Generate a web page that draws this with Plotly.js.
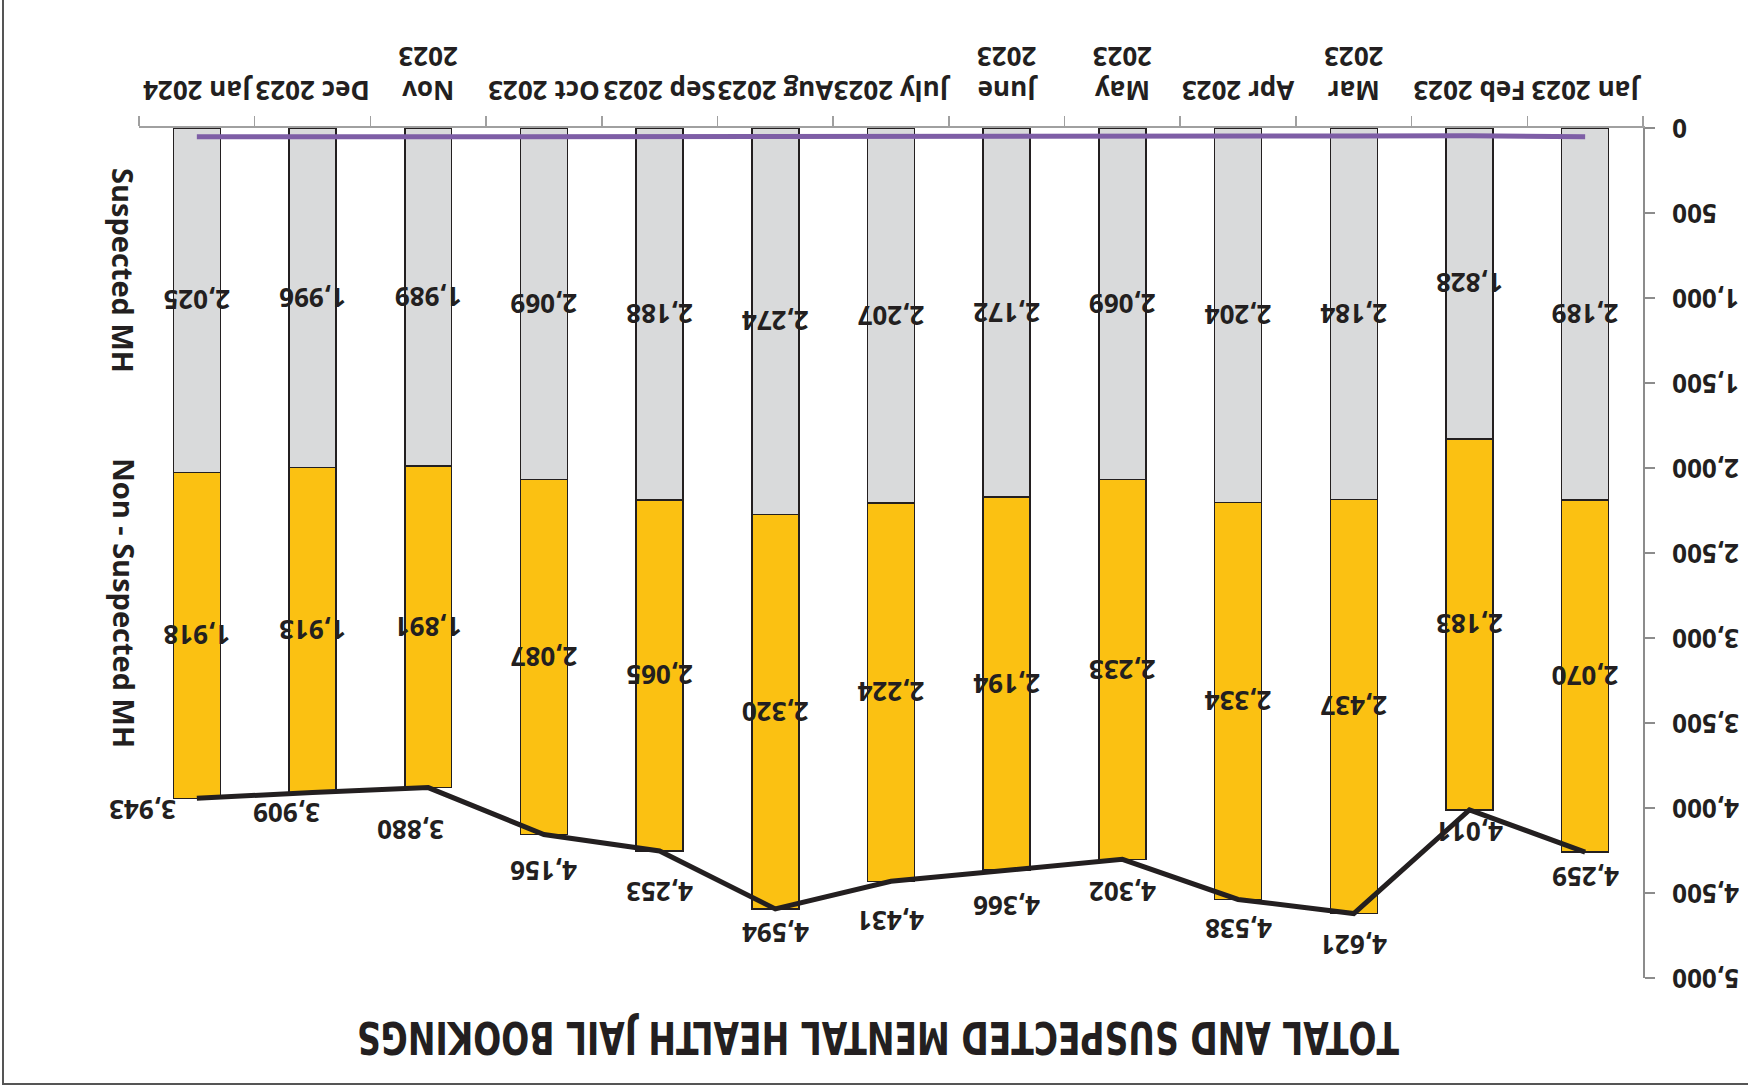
<!DOCTYPE html>
<html><head><meta charset="utf-8">
<script src="https://cdn.plot.ly/plotly-3.0.1.min.js"></script>
<style>
html,body{margin:0;padding:0;background:#fff;overflow:hidden;width:1748px;height:1091px;}
#wrap{position:absolute;left:0;top:0;width:1748px;height:1091px;transform:rotate(180deg);transform-origin:50% 50%;background:#fff;}
#chart{position:absolute;left:0;top:0;width:1748px;height:1091px;}
#frame{position:absolute;left:-10px;top:6px;width:1756px;height:1100px;box-sizing:border-box;border-top:2px solid #555;border-right:2px solid #555;pointer-events:none;}
</style></head><body>
<div id="wrap"><div id="chart"></div><div id="frame"></div></div>
<script>
// ---- data ----
const months = ['Jan 2023','Feb 2023','Mar<br>2023','Apr 2023','May<br>2023','June<br>2023','July 2023','Aug 2023','Sep 2023','Oct 2023','Nov<br>2023','Dec 2023','Jan 2024'];
const suspectedMH = [2189,1828,2184,2204,2069,2172,2207,2274,2188,2069,1989,1996,2025];
const nonSuspectedMH = [2070,2183,2437,2334,2233,2194,2224,2320,2065,2087,1891,1913,1918];
const totalBookings = [4259,4011,4621,4538,4302,4366,4431,4594,4253,4156,3880,3909,3943];
const pctSuspected = [51.4,45.6,47.3,48.6,48.1,49.7,49.8,49.5,51.4,49.8,51.3,51.1,51.4];
const seriesNames = ['Suspected MH','Non - Suspected MH'];
const chartTitle = 'TOTAL AND SUSPECTED MENTAL HEALTH JAIL BOOKINGS';

// ---- style ----
const FONT = '"Open Sans", "Noto Sans", sans-serif';
const INK = '#231F20';
const labelShiftX = [0,0,0,0,0,0,0,0,0,0,18,26,54];
const labelShiftY = [25,22,31,30,33,36,40,24,41,36,42,20,12];
const seriesLabelPos = [0.167, 0.559];   // paper-y of the vertical series names

const barText = {family: FONT, size: 26, color: INK, weight: 700};

const traces = [
  {type:'bar', name: seriesNames[0], x: months, y: suspectedMH,
   marker:{color:'#D9DADB', line:{color:INK, width:1.5}},
   texttemplate:'%{y:,d}', textposition:'inside', insidetextanchor:'middle',
   textangle:0, constraintext:'none', insidetextfont: barText, hoverinfo:'none'},
  {type:'bar', name: seriesNames[1], x: months, y: nonSuspectedMH,
   marker:{color:'#FBC112', line:{color:INK, width:1.5}},
   texttemplate:'%{y:,d}', textposition:'inside', insidetextanchor:'middle',
   textangle:0, constraintext:'none', insidetextfont: barText, hoverinfo:'none'},
  {type:'scatter', mode:'lines', name:'% Suspected', x: months, y: pctSuspected,
   line:{color:'#7E5EA6', width:5}, hoverinfo:'none'},
  {type:'scatter', mode:'lines', name:'Total', x: months, y: totalBookings,
   line:{color:INK, width:5}, hoverinfo:'none'}
];

const annotations = totalBookings.map((v,i)=>({
  x: months[i], y: v, xref:'x', yref:'y', showarrow:false,
  text: v.toLocaleString('en-US'), xshift: labelShiftX[i], yshift: labelShiftY[i],
  font:{family:FONT, size:26, color:INK, weight:700}
}));
seriesNames.forEach((nm,i)=>annotations.push(
  {xref:'paper', yref:'paper', x:1, y:seriesLabelPos[i], xshift:15, showarrow:false, textangle:-90,
   text: nm, xanchor:'center', yanchor:'middle', font:{family:FONT, size:29, color:INK, weight:700}}
));

const layout = {
  width:1748, height:1091,
  margin:{l:105, r:139, t:113, b:128, pad:0},
  paper_bgcolor:'rgba(0,0,0,0)', plot_bgcolor:'rgba(0,0,0,0)',
  barmode:'stack', bargap:0.594,
  showlegend:false,
  title:{text: chartTitle, x:0.4977, xref:'container', xanchor:'center', y:0.9505, yref:'container', yanchor:'middle',
         font:{family:'"Liberation Sans Narrow", "DejaVu Sans Condensed", sans-serif', size:44, color:INK, weight:700}},
  xaxis:{type:'category', range:[-0.5, 12.5], autorange:false, tickangle:0, showgrid:false, zeroline:false,
         showline:true, linecolor:'#A0A0A0', linewidth:2,
         ticks:'outside', tickson:'boundaries', ticklen:10, tickcolor:'#A0A0A0', tickwidth:1.5,
         tickfont:{family:FONT, size:26, color:INK, weight:700}, ticklabelstandoff:14},
  yaxis:{range:[0,5000], autorange:false, dtick:500, tick0:0, tickformat:',d', showgrid:false, zeroline:false,
         showline:true, linecolor:'#8C8C8C', linewidth:2,
         ticks:'outside', ticklen:10, tickcolor:'#8C8C8C', tickwidth:1.5,
         tickfont:{family:FONT, size:26, color:INK, weight:700}, ticklabelstandoff:12},
  annotations: annotations
};

Plotly.newPlot('chart', traces, layout, {displayModeBar:false, staticPlot:true}).then(()=>{
  const t = document.querySelector('#chart .gtitle');
  if (t) { t.setAttribute('textLength', '1042'); t.setAttribute('lengthAdjust', 'spacingAndGlyphs'); }
});
</script>
</body></html>
